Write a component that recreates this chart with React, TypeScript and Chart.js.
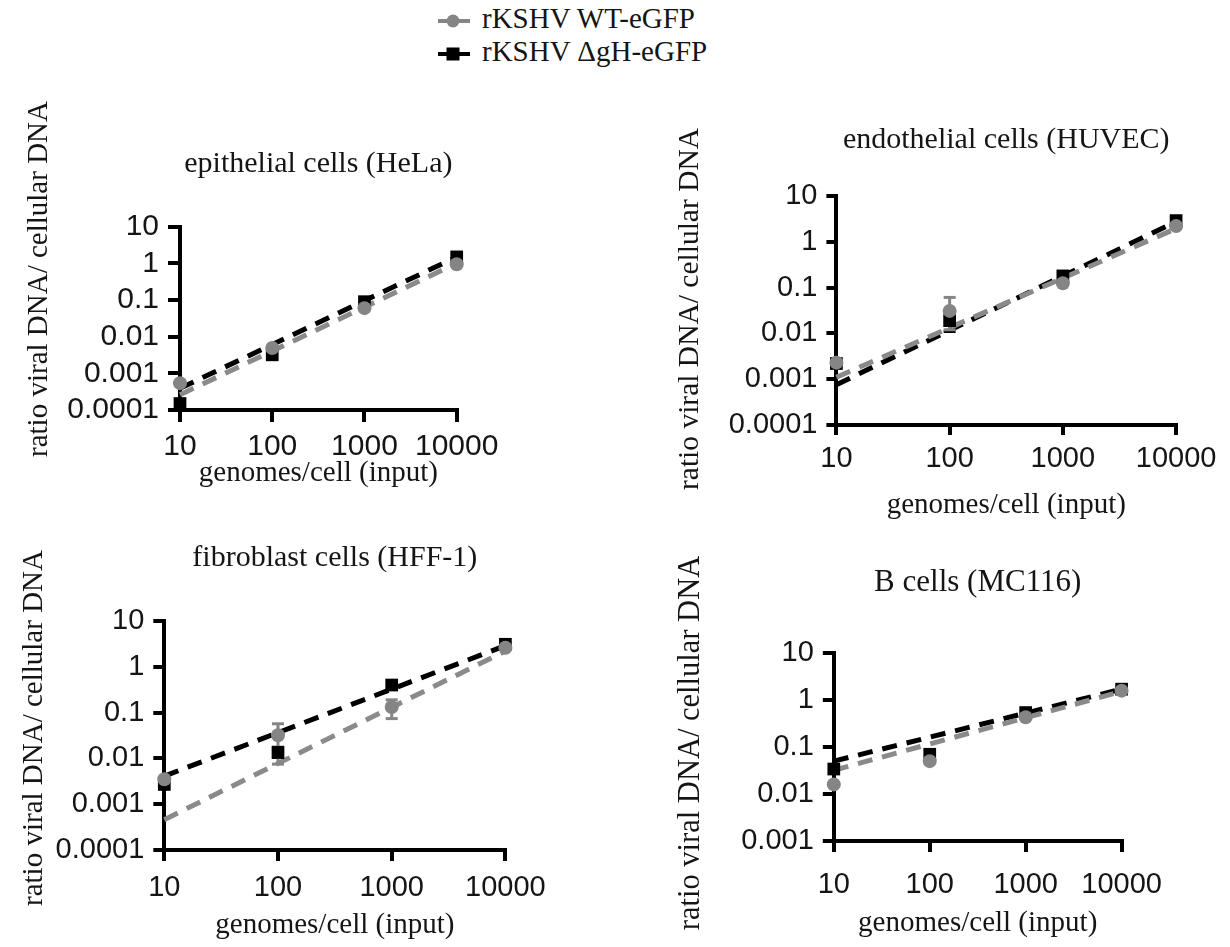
import React, { useEffect, useRef } from 'react';
import { Chart, registerables } from 'chart.js';

Chart.register(...registerables);

// ---------- data ----------
const seriesNames = ['rKSHV WT-eGFP', 'rKSHV \u0394gH-eGFP'];
const panelTitles = [
  'epithelial cells (HeLa)',
  'endothelial cells (HUVEC)',
  'fibroblast cells (HFF-1)',
  'B cells (MC116)',
];
const yAxisTitle = 'ratio viral DNA/ cellular DNA';
const xAxisTitle = 'genomes/cell (input)';

const xValues = [10, 100, 1000, 10000];
const fitX = [10, 10000];
const xTickValues = [10, 100, 1000, 10000];
const xTickLabels = ['10', '100', '1000', '10000'];
const yTickValuesA = [0.0001, 0.001, 0.01, 0.1, 1, 10];
const yTickLabelsA = ['0.0001', '0.001', '0.01', '0.1', '1', '10'];
const yTickValuesB = [0.001, 0.01, 0.1, 1, 10];
const yTickLabelsB = ['0.001', '0.01', '0.1', '1', '10'];

// HeLa
const helaWT = [0.00054, 0.0049, 0.06, 0.95];
const helaDgH = [0.00015, 0.0032, 0.09, 1.5];
const helaWTFit = [0.00026, 1.0];
const helaDgHFit = [0.00039, 1.5];
const helaWTErrLow = [null, null, null, null];
const helaWTErrHigh = [null, null, null, null];
const helaDgHErrLow = [null, null, null, null];
const helaDgHErrHigh = [null, null, null, null];

// HUVEC
const huvecWT = [0.0023, 0.031, 0.124, 2.2];
const huvecDgH = [0.0022, 0.019, 0.18, 2.9];
const huvecWTFit = [0.0011, 1.95];
const huvecDgHFit = [0.00076, 2.75];
const huvecWTErrLow = [null, 0.012, null, null];
const huvecWTErrHigh = [null, 0.061, null, null];
const huvecDgHErrLow = [null, 0.011, null, null];
const huvecDgHErrHigh = [null, 0.029, null, null];

// HFF-1
const hffWT = [0.0035, 0.032, 0.133, 2.6];
const hffDgH = [0.0027, 0.0135, 0.4, 3.1];
const hffWTFit = [0.00046, 2.2];
const hffDgHFit = [0.0041, 2.9];
const hffWTErrLow = [null, 0.0075, 0.074, null];
const hffWTErrHigh = [null, 0.057, 0.19, null];
const hffDgHErrLow = [null, 0.0105, null, null];
const hffDgHErrHigh = [null, 0.0175, null, null];

// MC116
const mcWT = [0.016, 0.05, 0.43, 1.58];
const mcDgH = [0.034, 0.07, 0.54, 1.7];
const mcWTFit = [0.032, 1.52];
const mcDgHFit = [0.05, 1.7];
const mcWTErrLow = [null, null, null, null];
const mcWTErrHigh = [null, null, null, null];
const mcDgHErrLow = [null, null, null, null];
const mcDgHErrHigh = [null, null, null, null];

// ---------- styles ----------
const SERIF = '"Liberation Serif", "Times New Roman", Times, serif';
const SANS = '"Liberation Sans", Arial, Helvetica, sans-serif';
const GRAY = '#858585';
const GRAY_LINE = '#8a8a8a';
const BLACK = '#000000';
const TEXT = '#151515';
const AXIS_TITLE_SIZE = 29;

type Series = {
  values: number[];
  fit: number[];
  errLow: (number | null)[];
  errHigh: (number | null)[];
};

type PanelSpec = {
  title: string;
  wt: Series;
  dgh: Series;
  yTicks: number[];
  yLabels: string[];
  canvas: { left: number; top: number; w: number; h: number };
  area: { L: number; R: number; T: number; B: number };
  titleY: number;
  titleSize: number;
  yTitleX: number;
  yTitleY: number;
  yTitleSize: number;
  xTitleY: number;
  tickSize: number;
  tickLen: number;
  tickPad: number;
};

const panels: PanelSpec[] = [
  {
    title: panelTitles[0],
    wt: { values: helaWT, fit: helaWTFit, errLow: helaWTErrLow, errHigh: helaWTErrHigh },
    dgh: { values: helaDgH, fit: helaDgHFit, errLow: helaDgHErrLow, errHigh: helaDgHErrHigh },
    yTicks: yTickValuesA,
    yLabels: yTickLabelsA,
    canvas: { left: 0, top: 85, w: 600, h: 445 },
    area: { L: 180, R: 456.7, T: 226.7, B: 410 },
    titleY: 164,
    titleSize: 30,
    yTitleX: 39,
    yTitleY: 279,
    yTitleSize: 29,
    xTitleY: 473,
    tickSize: 30,
    tickLen: 12,
    tickPad: 10,
  },
  {
    title: panelTitles[1],
    wt: { values: huvecWT, fit: huvecWTFit, errLow: huvecWTErrLow, errHigh: huvecWTErrHigh },
    dgh: { values: huvecDgH, fit: huvecDgHFit, errLow: huvecDgHErrLow, errHigh: huvecDgHErrHigh },
    yTicks: yTickValuesA,
    yLabels: yTickLabelsA,
    canvas: { left: 615, top: 85, w: 615, h: 445 },
    area: { L: 836.4, R: 1176.1, T: 196, B: 425 },
    titleY: 140,
    titleSize: 30,
    yTitleX: 690,
    yTitleY: 309,
    yTitleSize: 29.5,
    xTitleY: 505,
    tickSize: 29,
    tickLen: 10,
    tickPad: 9,
  },
  {
    title: panelTitles[2],
    wt: { values: hffWT, fit: hffWTFit, errLow: hffWTErrLow, errHigh: hffWTErrHigh },
    dgh: { values: hffDgH, fit: hffDgHFit, errLow: hffDgHErrLow, errHigh: hffDgHErrHigh },
    yTicks: yTickValuesA,
    yLabels: yTickLabelsA,
    canvas: { left: 0, top: 530, w: 600, h: 417 },
    area: { L: 164.3, R: 505.4, T: 621, B: 850 },
    titleY: 558,
    titleSize: 30,
    yTitleX: 34,
    yTitleY: 728,
    yTitleSize: 29,
    xTitleY: 925,
    tickSize: 29,
    tickLen: 11,
    tickPad: 12,
  },
  {
    title: panelTitles[3],
    wt: { values: mcWT, fit: mcWTFit, errLow: mcWTErrLow, errHigh: mcWTErrHigh },
    dgh: { values: mcDgH, fit: mcDgHFit, errLow: mcDgHErrLow, errHigh: mcDgHErrHigh },
    yTicks: yTickValuesB,
    yLabels: yTickLabelsB,
    canvas: { left: 615, top: 530, w: 615, h: 417 },
    area: { L: 833.8, R: 1121.6, T: 653, B: 841 },
    titleY: 583.3,
    titleSize: 31,
    yTitleX: 691,
    yTitleY: 743,
    yTitleSize: 30.5,
    xTitleY: 923,
    tickSize: 29,
    tickLen: 11,
    tickPad: 18,
  },
];

// draws the rotated y-axis title centred at a given point of the canvas
const yTitlePlugin = {
  id: 'yTitleAt',
  afterDraw(chart: any, _args: any, opts: any) {
    const ctx = chart.ctx;
    ctx.save();
    ctx.translate(opts.x, opts.y);
    ctx.rotate(-Math.PI / 2);
    ctx.font = `normal ${opts.size}px ${SERIF}`;
    ctx.fillStyle = opts.color;
    ctx.textAlign = 'center';
    ctx.textBaseline = 'middle';
    ctx.fillText(opts.text, 0, 0);
    ctx.restore();
  },
};

function errorBarDatasets(s: Series, color: string, label: string) {
  const out: any[] = [];
  xValues.forEach((x, i) => {
    const lo = s.errLow[i];
    const hi = s.errHigh[i];
    if (lo == null || hi == null) return;
    out.push({
      label: label + ' error',
      data: [
        { x, y: lo },
        { x, y: hi },
      ],
      showLine: true,
      borderColor: color,
      borderWidth: 3,
      pointStyle: 'line',
      pointRadius: 6,
      pointBorderWidth: 3,
      pointBorderColor: color,
      pointBackgroundColor: color,
      clip: false,
    });
  });
  return out;
}

function buildConfig(p: PanelSpec): any {
  const { canvas, area } = p;
  const yWidth = area.L - canvas.left;
  const padT = p.titleY - canvas.top - p.titleSize / 2;
  const titlePadBottom = area.T - p.titleY - p.titleSize / 2;
  const padB = canvas.top + canvas.h - p.xTitleY - AXIS_TITLE_SIZE / 2;
  const xHeight = canvas.top + canvas.h - padB - area.B;
  const padR = canvas.left + canvas.w - area.R;

  const datasets: any[] = [
    {
      label: seriesNames[0],
      data: xValues.map((x, i) => ({ x, y: p.wt.values[i] })),
      pointStyle: 'circle',
      pointRadius: 7,
      backgroundColor: GRAY,
      borderColor: GRAY,
      borderWidth: 0,
      showLine: false,
      clip: false,
    },
    {
      label: seriesNames[1],
      data: xValues.map((x, i) => ({ x, y: p.dgh.values[i] })),
      pointStyle: 'rect',
      pointRadius: 9,
      backgroundColor: BLACK,
      borderColor: BLACK,
      borderWidth: 0,
      showLine: false,
      clip: false,
    },
    ...errorBarDatasets(p.wt, GRAY, seriesNames[0]),
    ...errorBarDatasets(p.dgh, BLACK, seriesNames[1]),
    {
      label: seriesNames[0] + ' fit',
      data: fitX.map((x, i) => ({ x, y: p.wt.fit[i] })),
      showLine: true,
      borderColor: GRAY_LINE,
      borderWidth: 5,
      borderDash: [15, 10],
      pointRadius: 0,
      clip: false,
    },
    {
      label: seriesNames[1] + ' fit',
      data: fitX.map((x, i) => ({ x, y: p.dgh.fit[i] })),
      showLine: true,
      borderColor: BLACK,
      borderWidth: 5,
      borderDash: [15, 10],
      pointRadius: 0,
      clip: false,
    },
  ];

  const axisCommon = {
    type: 'logarithmic',
    grid: {
      display: true,
      drawOnChartArea: false,
      drawTicks: true,
      tickLength: p.tickLen,
      lineWidth: 4,
      tickWidth: 4,
      color: BLACK,
    },
    border: { display: true, width: 4, color: BLACK },
  };

  return {
    type: 'scatter',
    data: { datasets },
    plugins: [yTitlePlugin],
    options: {
      animation: false,
      responsive: false,
      maintainAspectRatio: false,
      devicePixelRatio: 1,
      events: [],
      layout: { padding: { left: 0, right: padR, top: padT, bottom: padB } },
      plugins: {
        legend: { display: false },
        tooltip: { enabled: false },
        title: {
          display: true,
          text: p.title,
          fullSize: false,
          color: TEXT,
          font: { family: SERIF, size: p.titleSize, weight: 'normal', lineHeight: 1 },
          padding: { top: 0, bottom: titlePadBottom },
        },
        yTitleAt: {
          text: yAxisTitle,
          x: p.yTitleX - canvas.left,
          y: p.yTitleY - canvas.top,
          size: p.yTitleSize,
          color: TEXT,
        },
      },
      scales: {
        x: {
          ...axisCommon,
          position: 'bottom',
          min: 10,
          max: 10000,
          afterBuildTicks: (s: any) => {
            s.ticks = xTickValues.map((v) => ({ value: v }));
          },
          afterFit: (s: any) => {
            s.height = xHeight;
          },
          ticks: {
            autoSkip: false,
            maxRotation: 0,
            minRotation: 0,
            padding: p.tickPad,
            color: TEXT,
            font: { family: SANS, size: p.tickSize, lineHeight: 1 },
            callback: (v: number, i: number) => xTickLabels[i],
          },
          title: {
            display: true,
            text: xAxisTitle,
            color: TEXT,
            font: { family: SERIF, size: AXIS_TITLE_SIZE, weight: 'normal', lineHeight: 1 },
            padding: { top: 0, bottom: 0 },
          },
        },
        y: {
          ...axisCommon,
          position: 'left',
          min: p.yTicks[0],
          max: p.yTicks[p.yTicks.length - 1],
          afterBuildTicks: (s: any) => {
            s.ticks = p.yTicks.map((v) => ({ value: v }));
          },
          afterFit: (s: any) => {
            s.width = yWidth;
          },
          ticks: {
            autoSkip: false,
            padding: 9,
            color: TEXT,
            font: { family: SANS, size: p.tickSize, lineHeight: 1 },
            callback: (v: number, i: number) => p.yLabels[i],
          },
          title: { display: false },
        },
      },
    },
  };
}

function Panel({ spec }: { spec: PanelSpec }) {
  const ref = useRef<HTMLCanvasElement | null>(null);
  useEffect(() => {
    if (!ref.current) return;
    const chart = new Chart(ref.current, buildConfig(spec));
    return () => chart.destroy();
  }, [spec]);
  return (
    <canvas
      ref={ref}
      width={spec.canvas.w}
      height={spec.canvas.h}
      style={{
        position: 'absolute',
        left: spec.canvas.left,
        top: spec.canvas.top,
        width: spec.canvas.w,
        height: spec.canvas.h,
      }}
    />
  );
}

function Legend() {
  const rows = [
    { y: 21, color: GRAY, shape: 'circle', text: seriesNames[0] },
    { y: 54, color: BLACK, shape: 'square', text: seriesNames[1] },
  ];
  return (
    <>
      <svg width={60} height={80} style={{ position: 'absolute', left: 430, top: 0 }}>
        {rows.map((r, i) => (
          <g key={i}>
            <line x1={8} y1={r.y} x2={40} y2={r.y} stroke={r.color} strokeWidth={4} />
            {r.shape === 'circle' ? (
              <circle cx={23} cy={r.y} r={6.5} fill={r.color} />
            ) : (
              <rect x={16.5} y={r.y - 6.5} width={13} height={13} fill={r.color} />
            )}
          </g>
        ))}
      </svg>
      {rows.map((r, i) => (
        <div
          key={i}
          style={{
            position: 'absolute',
            left: 482,
            top: r.y - 19,
            fontFamily: SERIF,
            fontSize: 29,
            lineHeight: '32px',
            color: TEXT,
            whiteSpace: 'nowrap',
          }}
        >
          {r.text}
        </div>
      ))}
    </>
  );
}

export default function App() {
  return (
    <div
      style={{
        position: 'absolute',
        left: 0,
        top: 0,
        width: 1230,
        height: 947,
        background: '#ffffff',
        overflow: 'hidden',
      }}
    >
      <Legend />
      {panels.map((p, i) => (
        <Panel key={i} spec={p} />
      ))}
    </div>
  );
}
